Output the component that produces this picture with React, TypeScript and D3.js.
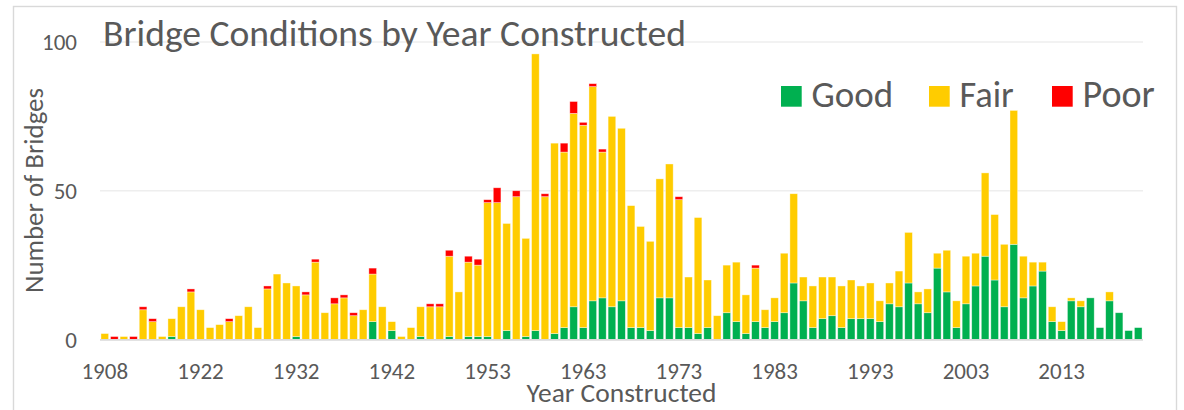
import React, { useRef, useLayoutEffect, useState } from "react";
import * as d3 from "d3";

const years = [
  "1908","1910","1912","1913","1914","1915","1916","1918","1919","1920",
  "1922","1923","1924","1925","1926","1927","1928","1929","1930","1931",
  "1932","1933","1934","1935","1936","1937","1938","1939","1940","1941",
  "1942","1943","1945","1946","1947","1948","1949","1950","1951","1952",
  "1953","1954","1955","1956","1957","1958","1959","1960","1961","1962",
  "1963","1964","1965","1966","1967","1968","1969","1970","1971","1972",
  "1973","1974","1975","1976","1977","1978","1979","1980","1981","1982",
  "1983","1984","1985","1986","1987","1988","1989","1990","1991","1992",
  "1993","1994","1995","1996","1997","1998","1999","2000","2001","2002",
  "2003","2004","2005","2006","2007","2008","2009","2010","2011","2012",
  "2013","2014","2015","2016","2017","2018","2019","2020","2021",
];

const good = [
  0,0,0,0,0,0,0,1,0,0,
  0,0,0,0,0,0,0,0,0,0,
  1,0,0,0,0,0,0,0,6,0,
  3,0,0,1,0,0,1,0,1,1,
  1,0,3,0,1,3,0,2,4,11,
  4,13,14,11,13,4,4,3,14,14,
  4,4,2,4,0,9,6,2,6,4,
  6,9,19,13,4,7,8,4,7,7,
  7,6,12,11,19,12,9,24,16,4,
  12,18,28,20,11,32,14,18,23,6,
  3,13,11,14,4,13,9,3,4,
];

const fair = [
  2,0,1,0,10,6,1,6,11,16,
  10,4,5,6,8,11,4,17,22,19,
  17,15,26,9,12,14,8,10,16,11,
  3,1,4,10,11,11,27,16,25,24,
  45,46,36,48,33,93,48,64,59,65,
  68,72,49,64,58,41,34,30,40,45,
  43,17,39,16,8,16,20,13,18,6,
  8,20,30,8,14,14,13,14,13,11,
  12,7,7,12,17,4,8,5,14,9,
  16,11,28,22,21,45,14,8,3,5,
  3,1,2,0,0,3,0,0,0,
];

const poor = [
  0,1,0,1,1,1,0,0,0,1,
  0,0,0,1,0,0,0,1,0,0,
  0,1,1,0,2,1,1,0,2,0,
  0,0,0,0,1,1,2,0,2,2,
  1,5,0,2,0,0,1,0,3,4,
  1,1,1,0,0,0,0,0,0,0,
  1,0,0,0,0,0,0,0,1,0,
  0,0,0,0,0,0,0,0,0,0,
  0,0,0,0,0,0,0,0,0,0,
  0,0,0,0,0,0,0,0,0,0,
  0,0,0,0,0,0,0,0,0,
];

const seriesNames = ["Good", "Fair", "Poor"];
const seriesColors = ["#00B050", "#FFCC00", "#FF0000"];
const yTicks = [0, 50, 100];
const xLabelEvery = 10;

const W = 1184;
const H = 410;
const FONT = "Calibri, Carlito, Lato, sans-serif";
const TXT = "#595959";

function FitText(props: any) {
  const { target, base, children, ...rest } = props;
  const ref = useRef<SVGTextElement>(null);
  const [size, setSize] = useState<number>(base);
  useLayoutEffect(() => {
    const el = ref.current;
    if (!el) return;
    const w = el.getComputedTextLength();
    if (w > 0) setSize(base * target / w);
  }, []);
  return (
    <text ref={ref} fontSize={size} {...rest}>
      {children}
    </text>
  );
}

export default function App() {
  const rows = years.map((y, i) => ({ year: y, Good: good[i], Fair: fair[i], Poor: poor[i] }));
  const stack = d3.stack<any>().keys(seriesNames)(rows);

  const x = d3.scaleBand<string>().domain(years).range([100, 1143]).paddingInner(0.2).paddingOuter(0.1);
  const y = d3.scaleLinear().domain([0, 100]).range([339.5, 42]);

  const legendX = [781, 929, 1052];
  const legendTextW = [81.7, 54.3, 72.3];

  return (
    <div style={{ position: "absolute", left: 0, top: 0, width: W, height: H, background: "#fff" }}>
      <svg width={W} height={H} style={{ display: "block", fontFamily: FONT }}>
        <rect x={0} y={0} width={W} height={H} fill="#fff" />
        <rect x={13.5} y={6.5} width={1163} height={430} fill="none" stroke="#d9d9d9" strokeWidth={1.4} />

        {yTicks.filter((t) => t > 0).map((t) => (
          <line key={t} x1={100} x2={1143} y1={y(t)} y2={y(t)} stroke="#eeeeee" strokeWidth={1.4} />
        ))}

        {stack.map((s, si) => (
          <g key={s.key} fill={seriesColors[si]}>
            {s.map((d: any, i: number) => {
              const h = y(d[0]) - y(d[1]);
              if (h <= 0) return null;
              return (
                <rect
                  key={i}
                  x={x(years[i])}
                  y={y(d[1])}
                  width={x.bandwidth()}
                  height={h}
                  stroke="#ffffff"
                  strokeOpacity={0.55}
                  strokeWidth={0.7}
                />
              );
            })}
          </g>
        ))}

        <line x1={100} x2={1143} y1={y(0) + 0.3} y2={y(0) + 0.3} stroke="#d9d9d9" strokeWidth={1.8} />

        {yTicks.map((t) => (
          <text key={t} x={77} y={y(t)} dy="0.35em" textAnchor="end" fontSize={23} fill={TXT}>
            {t}
          </text>
        ))}

        {years.map((yr, i) =>
          i % xLabelEvery === 0 ? (
            <text key={yr} x={(x(yr) as number) + x.bandwidth() / 2} y={379} textAnchor="middle" fontSize={23} fill={TXT}>
              {yr}
            </text>
          ) : null
        )}

        <FitText target={583} base={32} x={103} y={45.7} fill={TXT}>
          Bridge Conditions by Year Constructed
        </FitText>

        <FitText target={205} base={24} transform="translate(42.7,190.5) rotate(-90)" textAnchor="middle" fill={TXT}>
          Number of Bridges
        </FitText>

        <FitText target={190} base={24} x={621.5} y={402} textAnchor="middle" fill={TXT}>
          Year Constructed
        </FitText>

        {seriesNames.map((n, i) => (
          <g key={n}>
            <rect x={legendX[i]} y={86} width={20.7} height={20.7} fill={seriesColors[i]} />
            <FitText target={legendTextW[i]} base={34} x={legendX[i] + 30.5} y={107.3} fill={TXT}>
              {n}
            </FitText>
          </g>
        ))}
      </svg>
    </div>
  );
}
